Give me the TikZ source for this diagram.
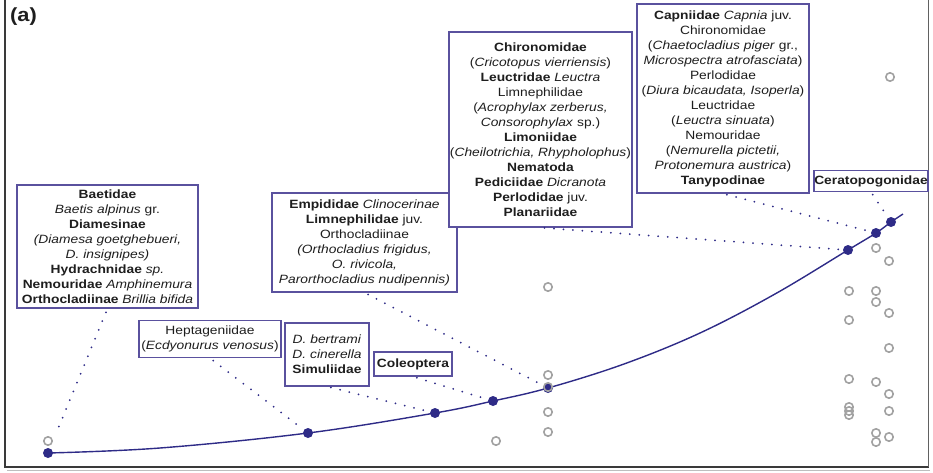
\documentclass[tikz,border=0pt]{standalone}
\usepackage{fontspec}
\setmainfont{Liberation Sans}[FakeStretch=1.15]
\definecolor{boxc}{HTML}{5A519E}
\definecolor{curvec}{HTML}{2E2B87}
\definecolor{ringc}{HTML}{A2A2A2}
\definecolor{txt}{HTML}{1E1E1E}
\definecolor{framec}{HTML}{3A3A3A}
\newcommand{\boxfont}{\fontsize{12}{15}\selectfont}
\tikzset{
  taxbox/.style={draw=boxc, line width=1.3pt, fill=white, align=center,
    inner sep=0pt, text=txt, font=\boxfont},
  bdot/.style={circle, fill=curvec, inner sep=0pt, minimum size=10pt},
  ring/.style={circle, draw=ringc, line width=1.6pt, inner sep=0pt, minimum size=8.4pt},
  leader/.style={curvec, line width=2pt, line cap=round, dash pattern=on 0pt off 9.5pt},
  curve/.style={curvec, line width=1.4pt},
}
\begin{document}
\begin{tikzpicture}[x=1pt,y=-1pt]
\useasboundingbox (0,0) rectangle (933,473);

% frame
\draw[ringc!70, line width=1pt] (7,470.5) -- (930,470.5);
\draw[framec, line width=1.6pt] (5,0) -- (5,467) -- (928.5,467);
\draw[framec!80, line width=1.2pt] (928.5,467) -- (928.5,0);
\node[anchor=north west, inner sep=0pt, text=txt, font=\bfseries\fontsize{19}{19}\selectfont] (lbl) at (10,8) {(a)};

% abundance points along the fitted curve
\node[bdot] (d1) at (48,453) {};
\node[bdot] (d2) at (308,433) {};
\node[bdot] (d3) at (435,413) {};
\node[bdot] (d4) at (493,401) {};
\node[bdot] (d5) at (548,388) {};
\node[bdot] (d6) at (848,250) {};
\node[bdot] (d7) at (876,233) {};
\node[bdot] (d8) at (891,222) {};

\draw[curve] plot[smooth, tension=0.6] coordinates {(d1.center) (160,448) (d2.center) (d3.center) (d4.center) (d5.center) (624,364) (700,333) (775,294) (d6.center) (d7.center) (d8.center) (903,214)};

% open circles
\foreach \px/\py [count=\i] in {48/441, 496/441, 548/287, 548/375, 548/387, 548/412, 548/432,
  849/291, 849/320, 849/379, 849/407, 849/411, 849/415,
  876/248, 876/291, 876/302, 876/382, 876/433, 876/442,
  889/261, 889/313, 889/348, 889/394, 889/411, 889/437, 890/77}
  \node[ring] (r\i) at (\px,\py) {};

% taxon boxes
\node[taxbox, minimum width=181pt, minimum height=123pt] (b1) at (107.5,246.5) {%
\textbf{Baetidae}\\
\textit{Baetis alpinus} gr.\\
\textbf{Diamesinae}\\
\textit{(Diamesa goetghebueri,}\\
\textit{D. insignipes)}\\
\textbf{Hydrachnidae} \textit{sp.}\\
\textbf{Nemouridae} \textit{Amphinemura}\\
\textbf{Orthocladiinae} \textit{Brillia bifida}};

\node[taxbox, minimum width=142pt, minimum height=37pt] (b2) at (210,339) {%
Heptageniidae\\
(\textit{Ecdyonurus venosus})};

\node[taxbox, minimum width=84pt, minimum height=63pt] (b3) at (327,354.5) {%
\textit{D. bertrami}\\
\textit{D. cinerella}\\
\textbf{Simuliidae}};

\node[taxbox, minimum width=78pt, minimum height=24pt] (b4) at (413,364) {\textbf{Coleoptera}};

\node[taxbox, minimum width=185pt, minimum height=99pt] (b5) at (364.5,242.5) {%
\textbf{Empididae} \textit{Clinocerinae}\\
\textbf{Limnephilidae} juv.\\
Orthocladiinae\\
\textit{(Orthocladius frigidus,}\\
\textit{O. rivicola,}\\
\textit{Parorthocladius nudipennis)}};

\node[taxbox, minimum width=183pt, minimum height=195pt] (b6) at (540.5,129.5) {%
\textbf{Chironomidae}\\
(\textit{Cricotopus vierriensis})\\
\textbf{Leuctridae} \textit{Leuctra}\\
Limnephilidae\\
(\textit{Acrophylax zerberus,}\\
\textit{Consorophylax} sp.)\\
\textbf{Limoniidae}\\
(\textit{Cheilotrichia, Rhypholophus})\\
\textbf{Nematoda}\\
\textbf{Pediciidae} \textit{Dicranota}\\
\textbf{Perlodidae} juv.\\
\textbf{Planariidae}};

\node[taxbox, minimum width=172pt, minimum height=189pt] (b7) at (723,98.5) {%
\textbf{Capniidae} \textit{Capnia} juv.\\
Chironomidae\\
(\textit{Chaetocladius piger} gr.,\\
\textit{Microspectra atrofasciata})\\
Perlodidae\\
(\textit{Diura bicaudata, Isoperla})\\
Leuctridae\\
(\textit{Leuctra sinuata})\\
Nemouridae\\
(\textit{Nemurella pictetii,}\\
\textit{Protonemura austrica})\\
\textbf{Tanypodinae}};

\node[taxbox, minimum width=114pt, minimum height=21pt] (b8) at (871,181) {\textbf{Ceratopogonidae}};

% dotted leaders from each box to its point
\draw[leader, shorten <=4pt, shorten >=20pt] (b1.south) -- (d1.center);
\draw[leader, shorten <=4pt, shorten >=8pt] (b2.south) -- (d2.center);
\draw[leader, shorten <=4pt, shorten >=8pt] (b3.south) -- (d3.center);
\draw[leader, shorten <=4pt, shorten >=7pt] (b4.south) -- (d4.center);
\draw[leader, shorten <=4pt, shorten >=9pt] (b5.south) -- (d5.center);
\draw[leader, shorten <=4pt, shorten >=8pt] (b6.south) -- (d6.center);
\draw[leader, shorten <=4pt, shorten >=8pt] (b7.south) -- (d7.center);
\draw[leader, shorten <=3pt, shorten >=6pt] (b8.south) -- (d8.center);
\end{tikzpicture}
\end{document}
